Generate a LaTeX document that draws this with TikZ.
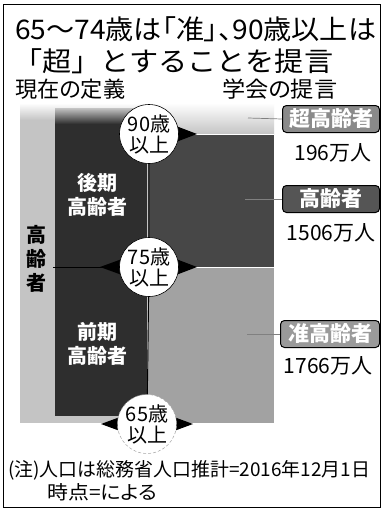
\documentclass[tikz,border=0pt]{standalone}
\usepackage{fontspec}
\usepackage{graphicx}
\newfontfamily\jp[RawFeature=+palt]{Noto Sans CJK JP}
\newfontfamily\jpf{Noto Sans CJK JP}
\definecolor{lightband}{HTML}{C4C4C4}
\definecolor{darkcol}{HTML}{2E2E2E}
\definecolor{darkright}{HTML}{474747}
\definecolor{midright}{HTML}{A2A2A2}
\definecolor{box1}{HTML}{8A8A8A}
\definecolor{box2}{HTML}{555555}
\definecolor{box3}{HTML}{9A9A9A}
\newcommand\fsz[2]{\fontsize{#1}{#2}\selectfont}
\newcommand\fitw[2]{\resizebox{#1}{\height}{#2}}
\tikzset{
  agecirc/.style={circle, fill=white, draw=black, line width=0.6pt, minimum size=59pt, inner sep=0pt, align=center, font=\jp\fsz{20}{21}},
  whitelab/.style={font=\jp\bfseries\fsz{20}{24}, text=white, align=center},
  labbox/.style={rounded corners=4pt, draw=black, line width=1pt, minimum width=97pt, minimum height=27pt, inner sep=0pt, text=white, font=\jp\bfseries\fsz{21}{21}},
  countlab/.style={font=\jp\fsz{21}{21}, inner sep=0pt},
  leader/.style={draw=gray, line width=0.7pt},
  tri/.style={fill=black},
  txt/.style={inner sep=0pt, anchor=west}
}
\begin{document}
\begin{tikzpicture}[x=1pt,y=-1pt]
\useasboundingbox (0,0) rectangle (383,509);
\fill[white] (0,0) rectangle (383,509);
% frame
\draw[line width=1pt] (3,4) rectangle (380,507);
% title
\node[txt, font=\jp\fsz{27}{27}] (t1) at (15,29) {\fitw{361pt}{65～74歳は「准」、90歳以上は}};
\node[txt, font=\jpf\fsz{27}{27}] (t2) at (13,61) {\fitw{320pt}{「超」とすることを提言}};
\node[txt, font=\jp\fsz{22}{22}] (h1) at (15,89) {\fitw{110pt}{現在の定義}};
\node[txt, font=\jp\fsz{22}{22}] (h2) at (222,89) {\fitw{115pt}{学会の提言}};
% regions
\shade[top color=white, bottom color=lightband] (20,103) rectangle (148,120);
\fill[lightband] (20,120) rectangle (148,423);
\shade[top color=lightband, bottom color=darkcol] (55,108) rectangle (147,124);
\fill[darkcol] (55,124) rectangle (147,416);
\shade[top color=white, bottom color=lightband] (148,103) rectangle (274,134);
\fill[darkright] (148,134) rectangle (274,267);
\fill[midright] (148,267) rectangle (274,423);
% age points
\coordinate (p90) at (149,134);
\coordinate (p75) at (149,267);
\coordinate (p65) at (147,424);
\coordinate (e90) at (274,134);
\coordinate (e75) at (274,267);
\coordinate (w75) at (53,267);
% lines
\draw[white, line width=1pt] (p90) -- (e90);
\draw[white, line width=1pt] (p75) -- (e75);
\draw[black, line width=1pt] (w75) -- (p75);
\draw[black, line width=0.9pt] (p90) -- (p75) -- (p65);
% triangles
\fill[tri, shift={(p90)}] (27,-8) -- (48,0) -- (27,8) -- cycle;
\fill[tri, shift={(p75)}] (27,-8) -- (48,0) -- (27,8) -- cycle;
\fill[tri, shift={(p75)}] (-27,-8) -- (-49,0) -- (-27,8) -- cycle;
\fill[tri, shift={(p65)}] (27,-7) -- (46,0) -- (27,7) -- cycle;
\fill[tri, shift={(p65)}] (-27,-7) -- (-46,0) -- (-27,7) -- cycle;
% circles
\node[agecirc] (c90) at (p90) {90歳\\以上};
\node[agecirc] (c75) at (p75) {75歳\\以上};
\node[agecirc, draw=gray!70, densely dashed, line width=0.5pt] (c65) at (p65) {65歳\\以上};
% column labels
\node[whitelab] (late) at (97,195) {後期\\高齢者};
\node[whitelab] (early) at (97,344) {前期\\高齢者};
\node[font=\jp\bfseries\fsz{20}{24}, align=center, inner sep=0pt] (eld) at (36,259) {高\\齢\\者};
% right labels
\node[labbox, fill=box1] (b1) at (331,119) {超高齢者};
\node[labbox, fill=box2] (b2) at (331,199) {高齢者};
\node[labbox, fill=box3, minimum width=99pt] (b3) at (330,334) {准高齢者};
\coordinate (l1) at (248,118);
\coordinate (l2) at (245,199);
\coordinate (l3) at (247,334);
\draw[leader] (l1) -- (b1.west);
\draw[leader] (l2) -- (b2.west);
\draw[leader] (l3) -- (b3.west);
\node[countlab] (n1) at (333,153) {196万人};
\node[countlab] (n2) at (331,233) {1506万人};
\node[countlab] (n3) at (328,366) {1766万人};
% note
\node[txt, font=\jp\fsz{19}{19}] (note1) at (8,470) {\fitw{362pt}{(注)人口は総務省人口推計=2016年12月1日}};
\node[txt, font=\jp\fsz{19}{19}] (note2) at (47,492) {\fitw{110pt}{時点=による}};
\end{tikzpicture}
\end{document}
